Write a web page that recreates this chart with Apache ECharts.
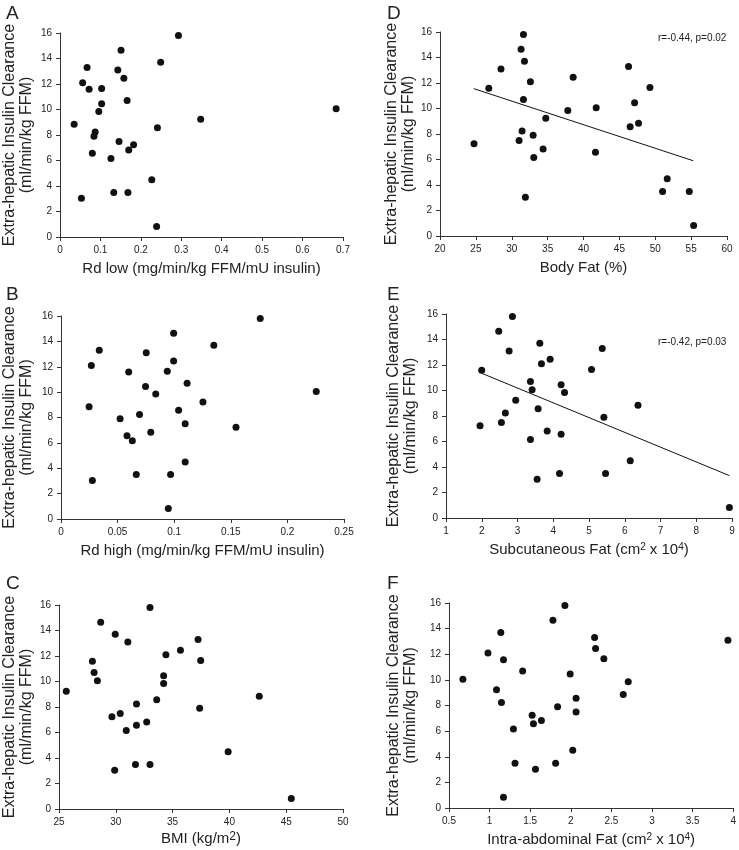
<!DOCTYPE html>
<html>
<head>
<meta charset="utf-8">
<title>Extra-hepatic insulin clearance</title>
<script src="https://cdn.jsdelivr.net/npm/echarts@6/dist/echarts.min.js"></script>
<style>
  html, body { margin: 0; padding: 0; background: #fff; }
  #chart { width: 739px; height: 850px; }
</style>
</head>
<body>
<div id="chart"></div>
<script>
// [x, clearance] per subject
var rdLow = [[0.293,15.8],[0.151,14.65],[0.249,13.7],[0.067,13.3],[0.143,13.1],[0.158,12.45],[0.056,12.1],[0.072,11.58],[0.103,11.65],[0.166,10.7],[0.103,10.45],[0.096,9.85],[0.683,10.05],[0.348,9.23],[0.035,8.85],[0.241,8.57],[0.087,8.23],[0.084,7.9],[0.146,7.5],[0.182,7.23],[0.170,6.83],[0.080,6.57],[0.126,6.16],[0.227,4.5],[0.133,3.5],[0.168,3.5],[0.053,3.03],[0.239,0.83]];
var rdHigh = [[0.176,15.8],[0.0995,14.65],[0.135,13.7],[0.0338,13.3],[0.0753,13.1],[0.0995,12.45],[0.0268,12.1],[0.0598,11.58],[0.0939,11.65],[0.1114,10.7],[0.0747,10.45],[0.0837,9.85],[0.2255,10.05],[0.1254,9.23],[0.0248,8.85],[0.1039,8.57],[0.0694,8.23],[0.0522,7.9],[0.1097,7.5],[0.1546,7.23],[0.0793,6.83],[0.0583,6.57],[0.063,6.16],[0.1097,4.5],[0.0665,3.5],[0.0968,3.5],[0.0277,3.03],[0.0948,0.83]];
var bmi = [[33.01,15.8],[28.67,14.65],[29.95,13.7],[31.06,13.1],[37.24,13.3],[35.69,12.45],[34.41,12.1],[27.94,11.58],[37.47,11.65],[28.09,10.7],[34.21,10.45],[28.38,10.05],[34.21,9.85],[25.64,9.23],[42.63,8.85],[33.6,8.57],[31.82,8.23],[37.38,7.9],[30.39,7.5],[29.66,7.23],[32.72,6.83],[31.82,6.57],[30.92,6.16],[39.89,4.5],[31.73,3.5],[33.01,3.5],[29.9,3.03],[45.45,0.83]];
var bodyFat = [[31.63,15.8],[31.3,14.65],[31.77,13.7],[28.5,13.1],[46.28,13.3],[38.56,12.45],[32.6,12.1],[26.8,11.58],[49.26,11.65],[31.63,10.7],[47.12,10.45],[41.77,10.05],[37.81,9.85],[34.74,9.23],[47.67,8.85],[46.5,8.57],[31.44,8.23],[32.98,7.9],[31.02,7.5],[24.74,7.23],[34.37,6.83],[41.67,6.57],[33.07,6.16],[51.67,4.5],[51.02,3.5],[54.74,3.5],[31.9,3.03],[55.35,0.83]];
var subcutFat = [[2.858,15.8],[2.475,14.65],[3.624,13.7],[2.765,13.1],[5.37,13.3],[3.913,12.45],[3.67,12.1],[1.999,11.58],[5.07,11.65],[3.362,10.7],[4.22,10.45],[3.409,10.05],[4.315,9.85],[2.95,9.23],[6.37,8.85],[3.577,8.57],[2.66,8.23],[5.416,7.9],[2.55,7.5],[1.952,7.23],[3.83,6.83],[4.22,6.57],[3.362,6.16],[6.154,4.5],[4.175,3.5],[5.463,3.5],[3.549,3.03],[8.927,0.83]];
var abdFat = [[1.927,15.8],[1.78,14.65],[1.138,13.7],[3.935,13.1],[2.293,13.3],[2.305,12.45],[0.98,12.1],[1.171,11.58],[2.407,11.65],[1.407,10.7],[1.992,10.45],[0.671,10.05],[2.707,9.85],[1.085,9.23],[2.646,8.85],[2.065,8.57],[1.146,8.23],[1.837,7.9],[2.065,7.5],[1.524,7.23],[1.638,6.83],[1.54,6.57],[1.293,6.16],[2.024,4.5],[1.313,3.5],[1.813,3.5],[1.565,3.03],[1.171,0.83]];

// regression lines (end points) and stats for D and E
var fitBodyFat = [[24.7,11.56],[55.3,5.9]];
var fitSubcut = [[2.0,11.35],[8.93,3.32]];
var statBodyFat = 'r=-0.44, p=0.02';
var statSubcut = 'r=-0.42, p=0.03';

// axis ranges [min, max, interval]
var yRange = [0, 16, 2];
var xRanges = [[0, 0.7, 0.1], [0, 0.25, 0.05], [25, 50, 5], [20, 60, 5], [1, 9, 1], [0.5, 4, 0.5]];
var letters = ['A', 'B', 'C', 'D', 'E', 'F'];
var xNames = [
  'Rd low (mg/min/kg FFM/mU insulin)',
  'Rd high (mg/min/kg FFM/mU insulin)',
  'BMI (kg/m{supBig|2})',
  'Body Fat (%)',
  'Subcutaneous Fat (cm{sup|2} x 10{sup|4})',
  'Intra-abdominal Fat (cm{sup|2} x 10{sup|4})'
];
var yName = 'Extra-hepatic Insulin Clearance\n(ml/min/kg FFM)';

var font = '"Liberation Sans", Arial, sans-serif';
var ink = '#222';

// plot boxes in px, measured on the figure
var boxes = [
  {left: 57, top: 33, width: 286, height: 204},
  {left: 58, top: 316, width: 286, height: 203},
  {left: 57, top: 605, width: 286, height: 204},
  {left: 440, top: 32, width: 287, height: 204},
  {left: 446, top: 314, width: 286, height: 204},
  {left: 449, top: 603, width: 287, height: 205}
];
var yGaps = [25, 26, 24, 21, 27, 30];
var xGaps = [24, 24, 22, 24, 24, 24];
var sets = [rdLow, rdHigh, bmi, bodyFat, subcutFat, abdFat];

var chart = echarts.init(document.getElementById('chart'));

var axisLine = {show: true, onZero: false, lineStyle: {color: '#333', width: 1}};
var axisTick = {show: true, length: 4, lineStyle: {color: '#333', width: 1}};
var labelStyle = {color: ink, fontSize: 10, fontFamily: font, margin: 8};

var grid = [], xAxis = [], yAxis = [], series = [], title = [];
boxes.forEach(function (b, i) {
  grid.push({left: b.left, top: b.top, width: b.width, height: b.height, containLabel: false});
  xAxis.push({
    type: 'value', gridIndex: i,
    min: xRanges[i][0], max: xRanges[i][1], interval: xRanges[i][2],
    name: xNames[i], nameLocation: 'middle', nameGap: xGaps[i],
    nameTextStyle: {
      color: ink, fontSize: 15, fontFamily: font,
      rich: {
        sup: {fontSize: 10, fontFamily: font, color: ink, verticalAlign: 'top'},
        supBig: {fontSize: 12, fontFamily: font, color: ink, verticalAlign: 'top'}
      }
    },
    axisLine: axisLine, axisTick: axisTick, axisLabel: labelStyle,
    splitLine: {show: false}
  });
  yAxis.push({
    type: 'value', gridIndex: i,
    min: yRange[0], max: yRange[1], interval: yRange[2],
    name: yName, nameLocation: 'middle', nameGap: yGaps[i],
    nameTextStyle: {color: ink, fontSize: 16, lineHeight: 17, fontFamily: font},
    axisLine: axisLine, axisTick: axisTick, axisLabel: labelStyle,
    splitLine: {show: false}
  });
  series.push({
    type: 'scatter', xAxisIndex: i, yAxisIndex: i,
    data: sets[i], symbolSize: 7,
    itemStyle: {color: '#111', opacity: 1},
    silent: true
  });
  title.push({
    text: letters[i],
    left: i < 3 ? 1 : 382,
    top: [0, 281, 570][i % 3] - 1,
    textStyle: {fontSize: 19, fontWeight: 'normal', color: ink, fontFamily: font}
  });
});

[[3, fitBodyFat], [4, fitSubcut]].forEach(function (f) {
  series.push({
    type: 'line', xAxisIndex: f[0], yAxisIndex: f[0],
    data: f[1], showSymbol: false, silent: true,
    lineStyle: {color: '#111', width: 1}
  });
});

chart.setOption({
  backgroundColor: '#fff',
  animation: false,
  title: title,
  grid: grid,
  xAxis: xAxis,
  yAxis: yAxis,
  series: series,
  graphic: [
    {type: 'text', left: 658, top: 33, style: {text: statBodyFat, fontSize: 10, fontFamily: font, fill: ink}},
    {type: 'text', left: 658, top: 337, style: {text: statSubcut, fontSize: 10, fontFamily: font, fill: ink}}
  ]
});
</script>
</body>
</html>
